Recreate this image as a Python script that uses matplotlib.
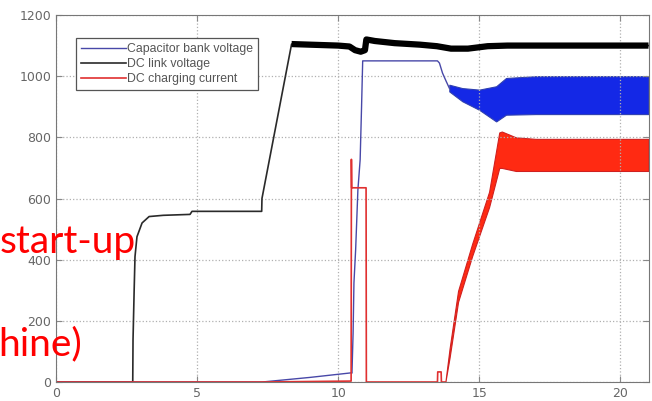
import matplotlib
matplotlib.use("Agg")
import matplotlib.pyplot as plt

# DC link voltage (black)
t_dc = [0, 2.72, 2.73, 2.77, 2.80, 2.87, 3.05, 3.3, 3.8, 4.75, 4.82, 7.29, 7.30, 8.35,
        9.0, 10.0, 10.4, 10.6, 10.8, 10.95, 11.0, 11.3, 12.0, 12.9, 13.5, 14.0, 14.6,
        15.3, 16.0, 18.0, 21.0]
v_dc = [0, 0, 138, 300, 410, 475, 520, 541, 545, 548, 558, 558, 600, 1105,
        1103, 1100, 1097, 1085, 1080, 1085, 1120, 1115, 1108, 1103, 1098, 1090, 1090,
        1098, 1100, 1100, 1100]

# capacitor bank voltage (blue)
t_cap = [0, 7.31, 9.0, 10.47, 10.49, 10.53, 10.56, 10.62, 10.7, 10.78, 10.83, 10.87,
         13.52, 13.59, 13.7, 13.83, 13.94]
v_cap = [0, 0, 15, 30, 29, 160, 324, 432, 628, 727, 900, 1050,
         1050, 1043, 1010, 983, 961]
t_cap_band = [13.94, 14.4, 15.0, 15.6, 15.95, 17, 18, 19, 20, 21]
cap_lo = [950, 918, 890, 852, 874, 876, 876, 876, 876, 876]
cap_hi = [972, 961, 956, 967, 994, 1000, 1000, 1000, 1000, 1000]

# DC charging current (red)
t_cur = [0, 7.3, 10.46, 10.47, 10.48, 10.99, 11.0, 13.52, 13.53, 13.65, 13.66, 13.8]
i_cur = [0, 0, 3, 728, 635, 635, 0, 0, 33, 33, 0, 0]
t_cur_band = [13.8, 13.95, 14.25, 14.75, 15.35, 15.71, 15.8, 16.3, 17, 18, 19, 20, 21]
cur_lo = [0, 80, 262, 412, 572, 700, 700, 690, 690, 690, 690, 690, 690]
cur_hi = [0, 110, 298, 452, 622, 816, 819, 800, 795, 795, 795, 795, 795]

labels = ["Capacitor bank voltage", "DC link voltage", "DC charging current"]

fig = plt.figure(figsize=(6.52, 4.01), dpi=100)
ax = fig.add_axes([56/652, 19/401, 592.5/652, 367/401])

blue = "#1428e6"
red = "#ff2a12"

ax.plot(t_dc, v_dc, color="#2a2a2a", lw=1.2, label=labels[1])
k = t_dc.index(8.35)
ax.plot(t_dc[k:], v_dc[k:], color="black", lw=4.5, solid_capstyle="butt")

ax.plot(t_cap, v_cap, color="#4848a8", lw=1.0, label=labels[0])
ax.fill_between(t_cap_band, cap_lo, cap_hi, color=blue, lw=0.8, edgecolor="#3040b0")

ax.plot(t_cur, i_cur, color="#e03030", lw=1.2, label=labels[2])
ax.fill_between(t_cur_band, cur_lo, cur_hi, color=red, lw=0.8, edgecolor="#d02020")

ax.set_xlim(0, 21)
ax.set_ylim(0, 1200)
ax.set_xticks([0, 5, 10, 15, 20])
ax.set_yticks([0, 200, 400, 600, 800, 1000, 1200])
ax.grid(True, linestyle=":", color="#b0b0b0", lw=0.9)
ax.tick_params(direction="in", length=4, colors="#888888", labelcolor="#666666",
               labelsize=9, top=True, right=True)
for s in ax.spines.values():
    s.set_color("#777777")

h, l = ax.get_legend_handles_labels()
order = [1, 0, 2]
leg = ax.legend([h[i] for i in order], [l[i] for i in order], loc="upper left",
                bbox_to_anchor=(0.0236, 0.954), handlelength=3.7,
                labelspacing=0.25, borderpad=0.4, handletextpad=0.1,
                fancybox=False, framealpha=1, edgecolor="#555555",
                prop={"family": "Liberation Sans", "size": 8.8})
for t in leg.get_texts():
    t.set_color("#555555")
leg.get_frame().set_linewidth(0.9)

fig.text(0/652, 1 - 253/401, "start-up", color="#ff0000", fontsize=28,
         family="Lato", ha="left", va="baseline")
fig.text(-2/652, 1 - 355/401, "hine)", color="#ff0000", fontsize=28,
         family="Lato", ha="left", va="baseline")

fig.savefig("out.png", dpi=100)
